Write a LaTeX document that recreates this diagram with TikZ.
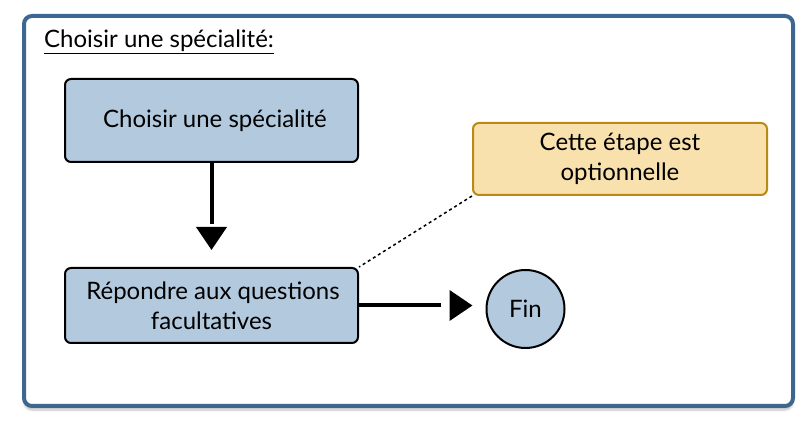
\documentclass[tikz,border=0pt]{standalone}
\usepackage{fontspec}
\setmainfont{Lato}
\usetikzlibrary{arrows.meta,shadows.blur}
\definecolor{frameblue}{HTML}{3D6690}
\definecolor{boxblue}{HTML}{B3C9DE}
\definecolor{notefill}{HTML}{F8E1AD}
\definecolor{notedraw}{HTML}{BA8A17}
\tikzset{
  frame/.style={draw=frameblue, line width=4pt, fill=white, rounded corners=8pt,
    blur shadow={shadow xshift=0pt, shadow yshift=-4pt, shadow blur steps=6, shadow opacity=25}},
  txt/.style={font=\fontsize{24pt}{30pt}\selectfont},
  stepbox/.style={txt, draw=black, line width=2pt, fill=boxblue, rounded corners=6pt,
    minimum width=293pt, align=center, inner sep=0pt},
  notebox/.style={txt, draw=notedraw, line width=2pt, fill=notefill, rounded corners=6pt,
    minimum width=294pt, minimum height=72pt, align=center, inner sep=0pt},
  endnode/.style={txt, circle, draw=black, line width=2pt, fill=boxblue, minimum size=78pt,
    inner sep=0pt},
  conn/.style={line width=4pt, -{Triangle[width=30pt,length=23pt]}},
  notelink/.style={line width=1.5pt, dash pattern=on 3pt off 3pt},
}
\begin{document}
\begin{tikzpicture}[x=1pt,y=-1pt]
\useasboundingbox (0,0) rectangle (812,430);
\node[frame, minimum width=769pt, minimum height=390pt] (frame) at (408.5,211) {};
\node[txt, anchor=base west, inner sep=0pt] (title) at (44,48) {\underline{Choisir une spécialité:}};
\node[stepbox, minimum height=83pt] (box1) at (211.5,120.5) {\hspace*{7pt}Choisir une spécialité};
\node[stepbox, minimum height=75pt] (box2) at (211.5,305.5) {\hspace*{3pt}Répondre aux questions\\facultatives};
\node[endnode] (fin) at (525.5,309) {Fin};
\node[notebox] (note) at (620,159) {Cette étape est\\optionnelle};
\draw[conn, shorten >=17pt, dash pattern=on 61pt off 30pt] (box1.south) -- (box2.north);
\draw[conn, shorten >=13pt, dash pattern=on 82pt off 30pt] (box2.east) -- (box2.east -| fin.west);
\draw[notelink] (note.south west) -- (box2.north east);
\end{tikzpicture}
\end{document}
